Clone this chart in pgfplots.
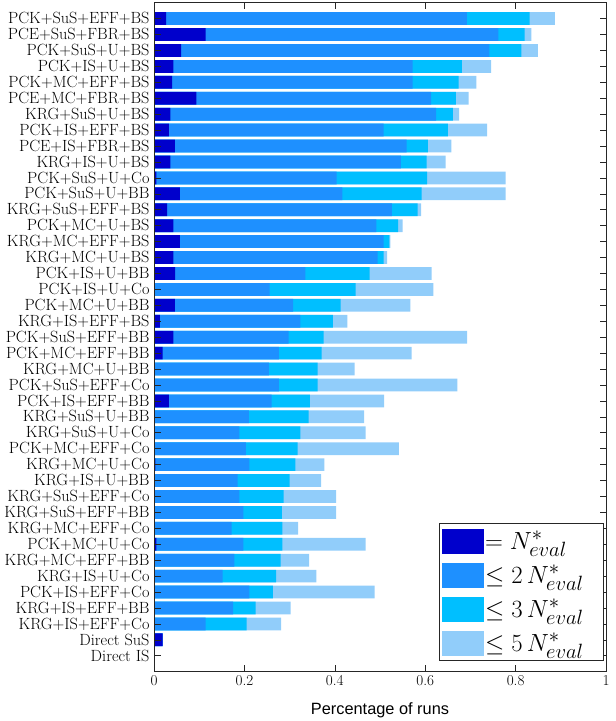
\documentclass[border=0pt]{standalone}
\usepackage{fontspec}
\usepackage{pgfplots}
\pgfplotsset{compat=1.18}
\usepackage{pgfplotstable}
\newfontfamily\arial{Liberation Sans}
\DeclareMathSizes{27}{27}{20.5}{15}
\definecolor{cD}{RGB}{0,0,204}
\definecolor{cB}{RGB}{30,144,255}
\definecolor{cC}{RGB}{0,191,255}
\definecolor{cL}{RGB}{145,205,250}
\definecolor{axgray}{RGB}{38,38,38}
\pgfplotstableread[col sep=comma]{
y,d,b,c,l
41,0.027,0.692,0.831,0.887
40,0.114,0.762,0.820,0.835
39,0.060,0.742,0.813,0.849
38,0.043,0.572,0.681,0.746
37,0.040,0.572,0.674,0.713
36,0.094,0.613,0.668,0.696
35,0.036,0.624,0.661,0.675
34,0.033,0.508,0.650,0.737
33,0.046,0.559,0.606,0.658
32,0.036,0.546,0.603,0.645
31,0.005,0.404,0.604,0.778
30,0.057,0.417,0.592,0.778
29,0.029,0.526,0.583,0.591
28,0.043,0.492,0.540,0.550
27,0.057,0.508,0.521,0.523
26,0.043,0.495,0.508,0.516
25,0.047,0.335,0.477,0.614
24,0,0.256,0.446,0.618
23,0.046,0.308,0.413,0.567
22,0.013,0.324,0.396,0.428
21,0.043,0.298,0.375,0.693
20,0.019,0.276,0.371,0.570
19,0,0.254,0.362,0.444
18,0,0.276,0.362,0.671
17,0.033,0.260,0.345,0.509
16,0,0.210,0.342,0.465
15,0,0.189,0.324,0.468
14,0,0.203,0.318,0.542
13,0.003,0.211,0.313,0.377
12,0,0.185,0.300,0.370
11,0,0.189,0.287,0.403
10,0,0.198,0.283,0.403
9,0,0.172,0.284,0.319
8,0.005,0.198,0.284,0.468
7,0,0.178,0.280,0.343
6,0,0.152,0.270,0.359
5,0,0.211,0.263,0.488
4,0,0.175,0.225,0.302
3,0,0.114,0.205,0.281
2,0.019,0.019,0.019,0.019
1,0,0,0,0
}\data
\begin{document}
\begin{tikzpicture}
\begin{axis}[
  scale only axis, width=452bp, height=669bp,
  xmin=0, xmax=1, ymin=0, ymax=42,
  xbar, bar width=0.8, bar shift=0pt,
  axis on top, tick align=inside, tick pos=both,
  xticklabel pos=lower, yticklabel pos=left,
  xtick={0,0.2,0.4,0.6,0.8,1}, xticklabels={0,0.2,0.4,0.6,0.8,1},
  ytick={1,...,41},
  yticklabels={Direct IS,Direct SuS,KRG+IS+EFF+Co,KRG+IS+EFF+BB,PCK+IS+EFF+Co,KRG+IS+U+Co,KRG+MC+EFF+BB,PCK+MC+U+Co,KRG+MC+EFF+Co,KRG+SuS+EFF+BB,KRG+SuS+EFF+Co,KRG+IS+U+BB,KRG+MC+U+Co,PCK+MC+EFF+Co,KRG+SuS+U+Co,KRG+SuS+U+BB,PCK+IS+EFF+BB,PCK+SuS+EFF+Co,KRG+MC+U+BB,PCK+MC+EFF+BB,PCK+SuS+EFF+BB,KRG+IS+EFF+BS,PCK+MC+U+BB,PCK+IS+U+Co,PCK+IS+U+BB,KRG+MC+U+BS,KRG+MC+EFF+BS,PCK+MC+U+BS,KRG+SuS+EFF+BS,PCK+SuS+U+BB,PCK+SuS+U+Co,KRG+IS+U+BS,PCE+IS+FBR+BS,PCK+IS+EFF+BS,KRG+SuS+U+BS,PCE+MC+FBR+BS,PCK+MC+EFF+BS,PCK+IS+U+BS,PCK+SuS+U+BS,PCE+SuS+FBR+BS,PCK+SuS+EFF+BS},
  major tick length=6.5bp,
  axis line style={draw=axgray, line width=0.6bp},
  tick style={draw=axgray, line width=0.6bp},
  xticklabel style={font=\fontsize{15.2}{17}\selectfont},
  yticklabel style={font=\fontsize{16.3}{17}\selectfont, xshift=-1bp},
  xlabel={Percentage of runs},
  xlabel style={font=\arial\fontsize{16.4}{18}\selectfont, at={(axis description cs:0.5,0)}, anchor=base, yshift=-42.3bp},
  reverse legend,
  legend cell align=left,
  legend style={at={(rel axis cs:0.9956,0.016)}, anchor=south east, draw=axgray, line width=0.6bp,
    font=\fontsize{27}{31}\selectfont, row sep=9bp, inner xsep=3bp, inner ysep=5bp,
    nodes={inner sep=1bp}},
  legend image code/.code={\fill[#1] (0bp,-12.5bp) rectangle (42bp,12.5bp);},
]
\addplot[fill=cL, draw=none] table[x=l,y=y]{\data};
\addplot[fill=cC, draw=none] table[x=c,y=y]{\data};
\addplot[fill=cB, draw=none] table[x=b,y=y]{\data};
\addplot[fill=cD, draw=none] table[x=d,y=y]{\data};
\legend{$\leq 5\,N^*_{eval}$\hspace*{16bp}, $\leq 3\,N^*_{eval}$\hspace*{16bp}, $\leq 2\,N^*_{eval}$\hspace*{16bp}, $= N^*_{eval}$\hspace*{16bp}}
\end{axis}
\pgfresetboundingbox
\path[use as bounding box] ([shift={(-154bp,-49.3bp)}]current axis.south west) rectangle ([shift={(9bp,2.7bp)}]current axis.north east);
\end{tikzpicture}
\end{document}
